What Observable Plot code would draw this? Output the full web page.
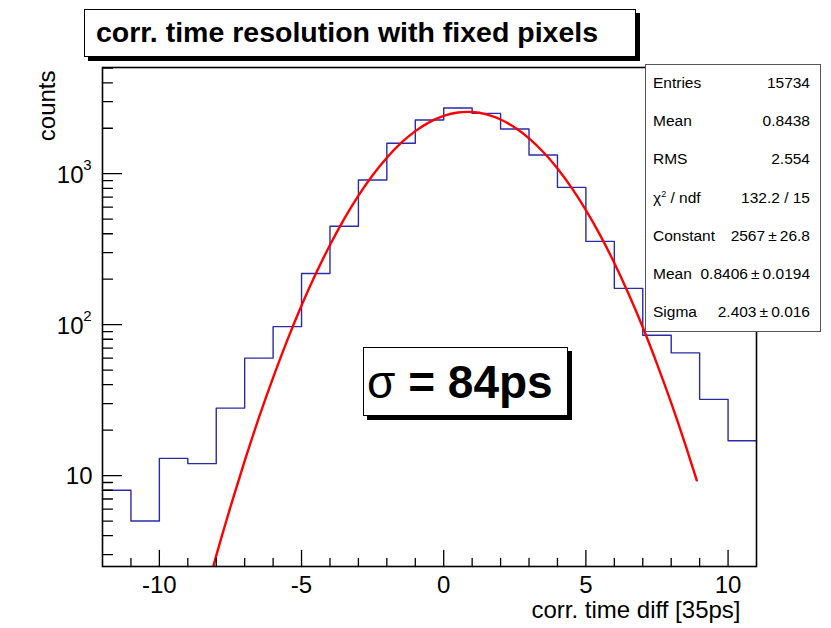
<!DOCTYPE html>
<html><head><meta charset="utf-8">
<script src="https://cdn.jsdelivr.net/npm/d3@7"></script>
<script src="https://cdn.jsdelivr.net/npm/@observablehq/plot@0.6"></script>
<style>
html,body{margin:0;padding:0;background:#fff;}
#wrap{position:relative;width:831px;height:628px;font-family:"Liberation Sans",Arial,Helvetica,sans-serif;color:#000;}
#wrap svg{position:absolute;left:0;top:0;}
.box{position:absolute;box-sizing:border-box;background:#fff;}
#title{left:84px;top:9px;width:552px;height:48px;border:1.5px solid #000;box-shadow:4px 4px 0 #000;font-weight:bold;font-size:28.5px;line-height:45px;padding-left:11px;white-space:nowrap;}
#stats{left:645px;top:64px;width:176px;height:268px;border:1.5px solid #555;font-size:15.5px;}
.row{display:flex;justify-content:space-between;height:38.2px;align-items:center;padding:0 10px 0 7px;white-space:nowrap;}
.row:first-child{margin-top:-1px;}
.row sup{font-size:9px;}
#sigma{left:363px;top:347px;width:205px;height:69px;border:1.5px solid #000;box-shadow:4px 4px 0 #000;font-size:46px;display:flex;align-items:center;padding-left:3px;white-space:nowrap;}
</style></head>
<body>
<div id="wrap"></div>
<script>
// Histogram: bin lower edges (width 1) and counts
const binLow = [-12,-11,-10,-9,-8,-7,-6,-5,-4,-3,-2,-1,0,1,2,3,4,5,6,7,8,9,10];
const binCounts = [8,5,13,12,28,60,97,218,448,908,1589,2270,2723,2507,1977,1331,811,356,174,85,65,32,17];
const binEnd = 11;

// Red fit curve (Gaussian fit)
const fitX = [-8.5,-8,-7.5,-7,-6.5,-6,-5.5,-5,-4.5,-4,-3.5,-3,-2.5,-2,-1.5,-1,-0.5,0,0.5,1,1.5,2,2.5,3,3.5,4,4.5,5,5.5,6,6.5,7,7.5,8,8.5,8.9];
const fitY = [1.34,2.95,6.2,12.5,24.2,44.6,79,134,217,337,502,716,977,1276,1597,1914,2197,2415,2541,2561,2472,2285,2022,1714,1391,1082,805,574,392,256,160,96,55,30.3,16,9.3];

// Axis ticks
const xMajor = [-10,-5,0,5,10];
const xMinor = [-11,-9,-8,-7,-6,-4,-3,-2,-1,1,2,3,4,6,7,8,9];
const yMajor = [10,100,1000];
const yBase = "10";
const yPowTicks = [100,1000];
const yPowLabels = ["2","3"];
const yMinor = [3,4,5,6,7,8,9,20,30,40,50,60,70,80,90,200,300,400,500,600,700,800,900,2000,3000,4000,5000];

// Texts
const titleText = "corr. time resolution with fixed pixels";
const xLabel = "corr. time diff [35ps]";
const yLabel = "counts";
const statsLabels = ["Entries","Mean","RMS","\u03C7<sup>2</sup> / ndf","Constant","Mean","Sigma"];
const statsValues = ["15734","0.8438","2.554","132.2 / 15","2567\u2009\u00B1\u200926.8","0.8406\u2009\u00B1\u20090.0194","2.403\u2009\u00B1\u20090.016"];

const histPts = binLow.map((x,i)=>({x, y: binCounts[i]})).concat([{x: binEnd, y: binCounts[binCounts.length-1]}]);
const fitPts = fitX.map((x,i)=>({x, y: fitY[i]}));

const tickShape = {draw(context, l){ context.moveTo(0,0); context.lineTo(0,-l); }};

const chart = Plot.plot({
  width: 831, height: 628,
  marginLeft: 102, marginRight: 75, marginTop: 67, marginBottom: 62,
  style: {fontFamily: "Liberation Sans, Arial, Helvetica, sans-serif", background: "transparent", color: "#000"},
  x: {domain: [-12, 11]},
  y: {type: "log", domain: [2.5, 5050], axis: null},
  marks: [
    Plot.line(histPts, {x: "x", y: "y", curve: "step-after", stroke: "#2b2ba8", strokeWidth: 1.4}),
    Plot.line(fitPts, {x: "x", y: "y", curve: "natural", stroke: "#ff0000", strokeWidth: 2.4, clip: true}),
    Plot.frame({stroke: "#000", strokeWidth: 1.6}),
    Plot.vector(xMinor, {x: d=>d, frameAnchor: "bottom", length: 8, anchor: "start", shape: tickShape, stroke: "#000", strokeWidth: 1.3}),
    Plot.vector(xMajor, {x: d=>d, frameAnchor: "bottom", length: 16, anchor: "start", shape: tickShape, stroke: "#000", strokeWidth: 1.3}),
    Plot.vector(yMinor, {y: d=>d, frameAnchor: "left", rotate: 90, length: 10, anchor: "start", shape: tickShape, stroke: "#000", strokeWidth: 1.3}),
    Plot.vector(yMajor, {y: d=>d, frameAnchor: "left", rotate: 90, length: 19, anchor: "start", shape: tickShape, stroke: "#000", strokeWidth: 1.3}),
    Plot.axisX({ticks: xMajor, tickSize: 0, tickPadding: 9, tickFormat: d=>String(d), fontSize: 24, label: null}),
    Plot.text([10], {y: d=>d, text: ()=>yBase, frameAnchor: "left", textAnchor: "end", dx: -10, dy: 1, fontSize: 24}),
    Plot.text(yPowTicks, {y: d=>d, text: ()=>yBase, frameAnchor: "left", textAnchor: "end", dx: -19, dy: 2, fontSize: 24}),
    Plot.text(yPowTicks, {y: d=>d, text: (d,i)=>yPowLabels[i], frameAnchor: "left", textAnchor: "end", dx: -11, dy: -8, fontSize: 15}),
    Plot.text([yLabel], {frameAnchor: "top-left", rotate: -90, textAnchor: "end", dx: -65, dy: 3, fontSize: 24}),
    Plot.text([xLabel], {frameAnchor: "bottom-right", textAnchor: "end", lineAnchor: "top", dx: -16, dy: 34, fontSize: 24})
  ]
});

const wrap = document.getElementById("wrap");
wrap.appendChild(chart);

const title = document.createElement("div");
title.className = "box"; title.id = "title"; title.textContent = titleText;
wrap.appendChild(title);

const stats = document.createElement("div");
stats.className = "box"; stats.id = "stats";
stats.innerHTML = statsLabels.map((l,i)=>`<div class="row"><span>${l}</span><span>${statsValues[i]}</span></div>`).join("");
wrap.appendChild(stats);

const sig = document.createElement("div");
sig.className = "box"; sig.id = "sigma";
sig.innerHTML = `<span style="font-weight:normal">\u03C3</span><b>&nbsp;= 84ps</b>`;
wrap.appendChild(sig);
</script>
</body></html>
